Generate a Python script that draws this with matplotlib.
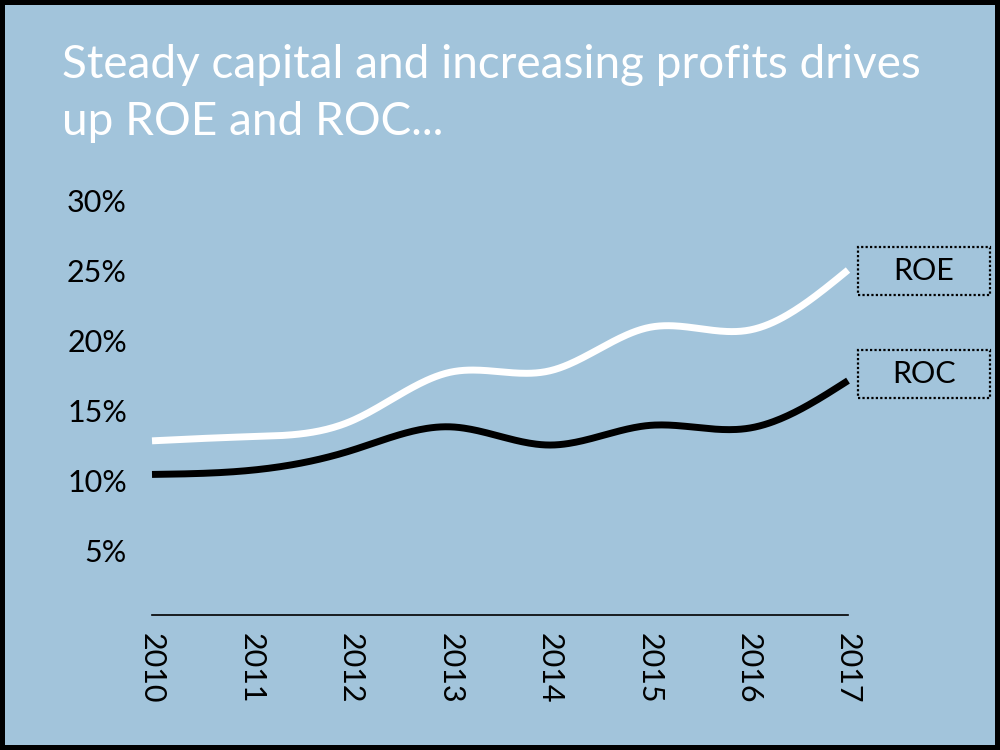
import numpy as np
import matplotlib.pyplot as plt
from matplotlib.patches import Rectangle

plt.rcParams['font.family'] = ['Lato', 'DejaVu Sans']

# data
years = [2010, 2011, 2012, 2013, 2014, 2015, 2016, 2017]
roe = [12.8, 13.1, 14.2, 17.7, 17.8, 20.9, 20.7, 25.0]
roc = [10.4, 10.7, 12.1, 13.8, 12.5, 13.9, 13.7, 17.1]
yticks = [5, 10, 15, 20, 25, 30]
ytick_labels = ['5%', '10%', '15%', '20%', '25%', '30%']
title = 'Steady capital and increasing profits drives\nup ROE and ROC...'

bg = '#a2c4db'


def smooth(x, y, n=300):
    # natural cubic spline, just for the curved look of the lines
    x = np.asarray(x, float)
    y = np.asarray(y, float)
    k = len(x)
    h = np.diff(x)
    A = np.zeros((k, k))
    b = np.zeros(k)
    A[0, 0] = A[-1, -1] = 1
    for i in range(1, k - 1):
        A[i, i - 1] = h[i - 1]
        A[i, i] = 2 * (h[i - 1] + h[i])
        A[i, i + 1] = h[i]
        b[i] = 6 * ((y[i + 1] - y[i]) / h[i] - (y[i] - y[i - 1]) / h[i - 1])
    m = np.linalg.solve(A, b)
    xs = np.linspace(x[0], x[-1], n)
    idx = np.clip(np.searchsorted(x, xs) - 1, 0, k - 2)
    t = xs - x[idx]
    hi = h[idx]
    a = y[idx]
    c1 = (y[idx + 1] - y[idx]) / hi - hi * (2 * m[idx] + m[idx + 1]) / 6
    c2 = m[idx] / 2
    c3 = (m[idx + 1] - m[idx]) / (6 * hi)
    return xs, a + c1 * t + c2 * t ** 2 + c3 * t ** 3


fig = plt.figure(figsize=(10, 7.5), dpi=100)
fig.patch.set_facecolor(bg)
ax = fig.add_axes([0.152, 0.18, 0.696, 0.5533])
ax.set_facecolor(bg)

xs, ys = smooth(years, roe)
ax.plot(xs, ys, color='white', lw=5, solid_capstyle='butt', clip_on=False)
xs, ys = smooth(years, roc)
ax.plot(xs, ys, color='black', lw=5, solid_capstyle='butt', clip_on=False)

ax.set_xlim(2010, 2017)
ax.set_ylim(0.36, 30)
for s in ['top', 'right', 'left']:
    ax.spines[s].set_visible(False)
ax.spines['bottom'].set_linewidth(1.2)
ax.set_xticks(years)
ax.set_xticklabels([str(y) for y in years], rotation=270, fontsize=22)
ax.set_yticks(yticks)
ax.set_yticklabels(ytick_labels, fontsize=22)
ax.tick_params(axis='x', length=0, pad=13)
ax.tick_params(axis='y', length=0, pad=18)

# va=baseline puts the last line's baseline at y
fig.text(0.062, 1 - 135 / 750, title, color='white', fontsize=33,
         va='baseline', ha='left', linespacing=1.45)

# legend boxes next to the line ends
fig.canvas.draw()
inv = fig.transFigure.inverted()
for name, vals, dy in [('ROE', roe, -1), ('ROC', roc, 7)]:
    px, py = ax.transData.transform((years[-1], vals[-1]))
    cx, cy = px + 76, py + dy
    x0, y0 = inv.transform((cx - 66, cy - 24))
    x1, y1 = inv.transform((cx + 66, cy + 24))
    fig.add_artist(Rectangle((x0, y0), x1 - x0, y1 - y0, fill=False,
                             edgecolor='black', lw=1.6, linestyle=(0, (1, 1)),
                             transform=fig.transFigure))
    tx, ty = inv.transform((cx, cy))
    fig.text(tx, ty, name, fontsize=22, ha='center', va='center', color='black')

# black frame round the picture
fig.add_artist(Rectangle((0, 0), 1, 1, fill=False, edgecolor='black', lw=7.2,
                         transform=fig.transFigure, clip_on=False))

fig.savefig('out.png', dpi=100, facecolor=bg)
